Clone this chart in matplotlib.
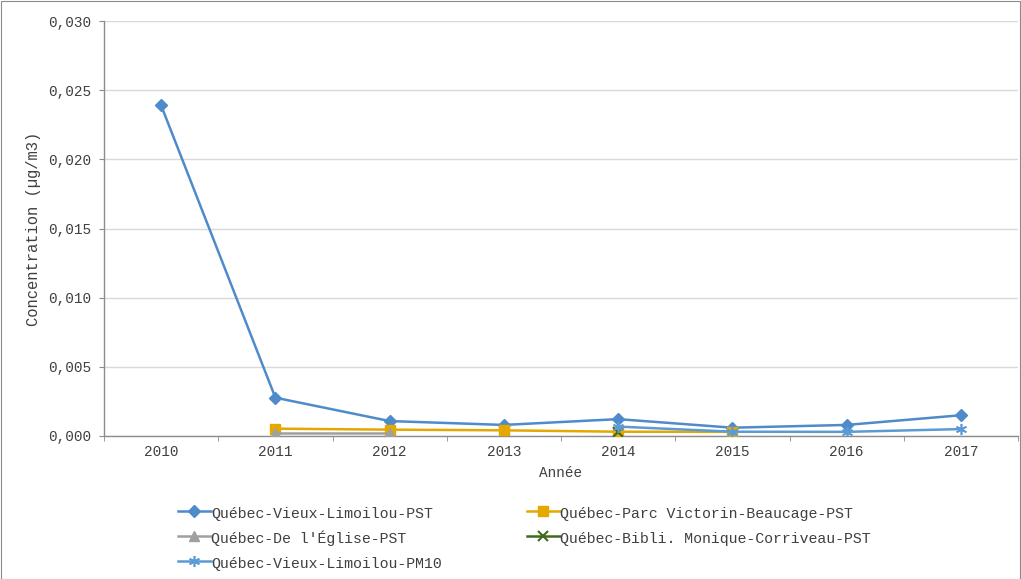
import matplotlib
matplotlib.use("Agg")
import matplotlib.pyplot as plt
from matplotlib.patches import Rectangle
from matplotlib.ticker import FixedLocator, FuncFormatter
import numpy as np

years = ["2010", "2011", "2012", "2013", "2014", "2015", "2016", "2017"]

vieux_limoilou_pst = [0.0239, 0.00277, 0.00108, 0.00080, 0.00122, 0.00060, 0.00080, 0.00150]
parc_victorin_pst = [None, 0.00053, 0.00046, 0.00041, 0.00031, 0.00030, None, None]
de_l_eglise_pst = [None, 0.00020, 0.00020, None, None, None, None, None]
bibli_corriveau_pst = [None, None, None, None, 0.00030, None, None, None]
vieux_limoilou_pm10 = [None, None, None, None, 0.00068, 0.00031, 0.00030, 0.00050]

series_names = [
    "Québec-Vieux-Limoilou-PST",
    "Québec-Parc Victorin-Beaucage-PST",
    "Québec-De l'Église-PST",
    "Québec-Bibli. Monique-Corriveau-PST",
    "Québec-Vieux-Limoilou-PM10",
]

FONT = ["Liberation Mono", "DejaVu Sans Mono"]
FS = 10.4
TXT = "#404040"
AXC = "#8C8C8C"

W, H = 1021, 579
fig = plt.figure(figsize=(W / 100, H / 100), dpi=100)
ax = fig.add_axes([104 / W, 1 - 436 / H, 914 / W, 415 / H])

x = np.arange(len(years))


def arr(vals):
    return np.array([np.nan if v is None else v for v in vals], dtype=float)


styles = [
    (vieux_limoilou_pst, dict(color="#4F8BCB", marker="D", markersize=6.5)),
    (parc_victorin_pst, dict(color="#E5A800", marker="s", markersize=7.5)),
    (de_l_eglise_pst, dict(color="#A0A0A0", marker="^", markersize=7)),
    (bibli_corriveau_pst, dict(color="#3E6A1E", marker="x", markersize=7, markeredgewidth=1.5)),
    (vieux_limoilou_pm10, dict(color="#5B9BD5", marker=(6, 2, 0), markersize=8, markeredgewidth=1.2)),
]

lines = []
for (vals, st), name in zip(styles, series_names):
    (ln,) = ax.plot(x, arr(vals), linewidth=1.8, label=name, zorder=3, **st)
    lines.append(ln)

ax.set_xlim(-0.5, len(years) - 0.5)
ax.set_ylim(0, 0.030)

ax.yaxis.set_major_locator(FixedLocator(np.arange(0, 0.0301, 0.005)))
ax.yaxis.set_major_formatter(FuncFormatter(lambda v, p: f"{v:.3f}".replace(".", ",")))
ax.set_xticks(x)
ax.set_xticklabels(years)
ax.set_xticks(np.arange(-0.5, len(years), 1.0), minor=True)

ax.grid(axis="y", color="#D9D9D9", linewidth=1.0, zorder=0)
ax.set_axisbelow(True)

for side in ("top", "right"):
    ax.spines[side].set_visible(False)
for side in ("left", "bottom"):
    ax.spines[side].set_color(AXC)
    ax.spines[side].set_linewidth(1.0)

ax.tick_params(axis="x", which="major", length=0, pad=6.5)
ax.tick_params(axis="x", which="minor", length=3.6, color=AXC, direction="out")
ax.tick_params(axis="y", which="major", length=3.6, color=AXC, direction="out", pad=5.5)

for lab in ax.get_xticklabels() + ax.get_yticklabels():
    lab.set_fontfamily(FONT)
    lab.set_fontsize(FS)
    lab.set_color(TXT)

ax.set_xlabel("Année", fontfamily=FONT, fontsize=FS, color=TXT, labelpad=5)
ax.set_ylabel("Concentration (µg/m3)", fontfamily=FONT, fontsize=11.2, color=TXT, labelpad=5)

order = [0, 2, 4, 1, 3]
leg = fig.legend(
    [lines[i] for i in order],
    [series_names[i] for i in order],
    ncol=2,
    loc="upper left",
    bbox_to_anchor=(178 / W, 1 - 505 / H),
    frameon=False,
    prop={"family": FONT, "size": 10.7},
    handlelength=2.2,
    handleheight=1.2,
    handletextpad=0.05,
    columnspacing=5.7,
    labelspacing=0.63,
    borderpad=0,
    borderaxespad=0,
)
for t in leg.get_texts():
    t.set_color(TXT)

fig.add_artist(Rectangle((0.5 / W, 0.5 / H), (W - 1.5) / W, (H - 1.5) / H,
                         transform=fig.transFigure, fill=False,
                         edgecolor=AXC, linewidth=0.8))

fig.savefig("out.png", dpi=100)
